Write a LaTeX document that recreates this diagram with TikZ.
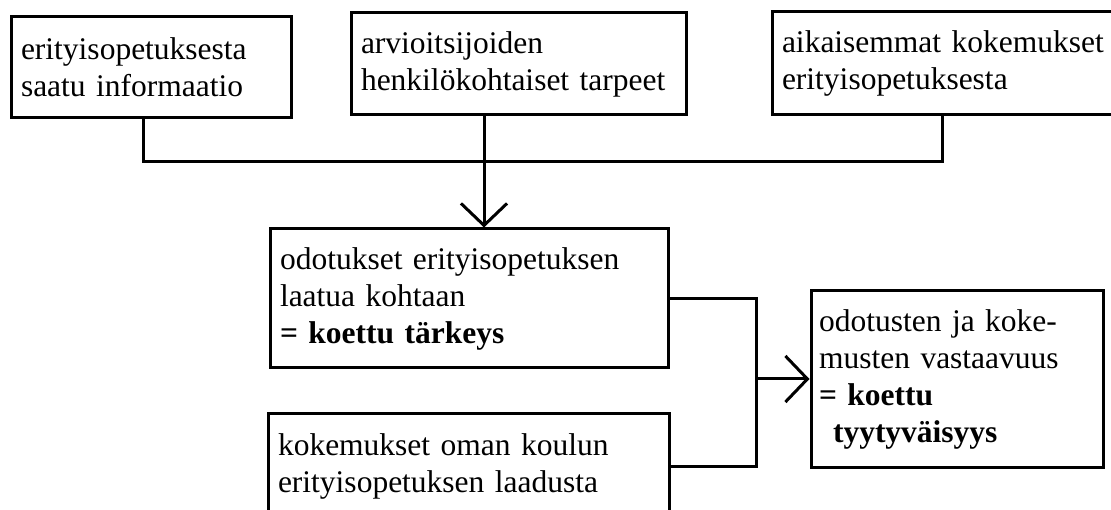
\documentclass[tikz,border=0pt]{standalone}
\usepackage{fontspec}
\setmainfont{Liberation Serif}
\usetikzlibrary{arrows.meta}
\begin{document}
\begin{tikzpicture}[x=1pt, y=-1pt,
    laatikko/.style={rectangle, draw, black, line width=3pt, align=left, inner xsep=10pt, inner ysep=0pt, font=\fontsize{31.5}{37}\selectfont},
    viiva/.style={line width=3pt},
    nuoli/.style={line width=3pt, -{Straight Barb[length=22pt, width=46pt]}}]
    \useasboundingbox (0, 0) rectangle (1111, 510);
    \draw (151, 67.5) node[laatikko, text width=260pt, minimum height=101pt](tieto){erityisopetuksesta\\saatu informaatio}
       (518.5, 64) node[laatikko, text width=315pt, minimum height=102pt](tarpeet){arvioitsijoiden\\henkilökohtaiset tarpeet}
       (956, 63.5) node[laatikko, text width=348pt, minimum height=103pt](aiemmat){aikaisemmat kokemukset\\erityisopetuksesta}
       (469, 298.5) node[laatikko, text width=378pt, minimum height=139pt](odotukset){odotukset erityisopetuksen\\laatua kohtaan\\\textbf{= koettu tärkeys}}
       (468.5, 466) node[laatikko, text width=381pt, minimum height=106pt](kokemukset){kokemukset oman koulun\\erityisopetuksen laadusta}
       (957, 379) node[laatikko, inner xsep=8pt, text width=276pt, minimum height=176pt](tyytyvaisyys){odotusten ja koke-\\musten vastaavuus\\\textbf{= koettu}\\\hspace*{14pt}\textbf{tyytyväisyys}};

    \coordinate (vasen) at (143, 162);
    \coordinate (keski) at (484, 162);
    \coordinate (oikea) at (942, 162);
    \coordinate (liitos) at (756, 379);

    \draw[viiva] (tieto.south -| vasen) -- (vasen) -- (oikea) -- (aiemmat.south -| oikea);
    \draw[nuoli] (tarpeet.south -| keski) -- (odotukset.north -| keski);
    \draw[viiva] (odotukset.east) -| (liitos);
    \draw[viiva] (kokemukset.east) -| (liitos);
    \draw[nuoli] (liitos) -- (tyytyvaisyys.west);
\end{tikzpicture}
\end{document}
